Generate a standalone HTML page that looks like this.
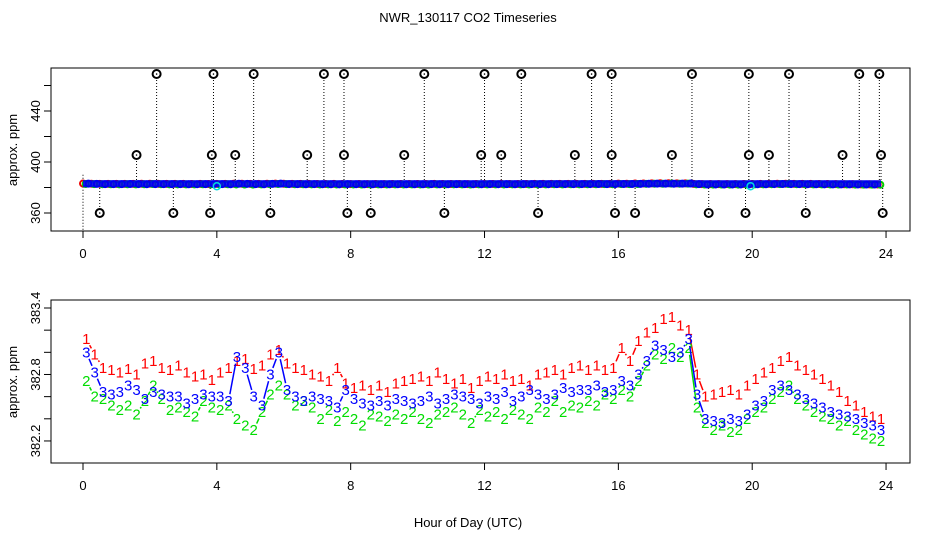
<!DOCTYPE html>
<html><head><meta charset="utf-8">
<style>
html,body{margin:0;padding:0;background:#fff;}
svg{display:block;font-family:"Liberation Sans",sans-serif;}
</style></head>
<body>
<svg id="chart" width="936" height="540" viewBox="0 0 936 540" xmlns="http://www.w3.org/2000/svg">
<rect width="936" height="540" fill="#fff"/>
<text x="468" y="22" font-size="13" text-anchor="middle">NWR_130117  CO2 Timeseries</text>
<text x="468" y="527" font-size="13" text-anchor="middle">Hour of Day (UTC)</text>
<text transform="translate(17,150) rotate(-90)" font-size="13" text-anchor="middle">approx. ppm</text>
<text transform="translate(17,382) rotate(-90)" font-size="13" text-anchor="middle">approx. ppm</text>
<g id="topPanel"></g>
<g id="botPanel"></g>
</svg>
<script>
const xTicks = [0,4,8,12,16,20,24];
const topYTicks = [360,400,440];
const topYMinor = [360,380,400,420,440,460];
const botYTicks = [382.2,382.4,382.6,382.8,383.0,383.2,383.4];
const botYLabels = [382.2,382.8,383.4];
const seriesRed = [383.12,382.98,382.86,382.84, 382.82,382.85,382.80,382.90, 382.92,382.86,382.84,382.88, 382.82,382.78,382.80,382.75,
 382.82,382.86,382.92,382.94, 382.85,382.88,382.98,383.02, 382.90,382.86,382.84,382.80, 382.78,382.74,382.86,382.72,
 382.68,382.70,382.66,382.70, 382.64,382.72,382.74,382.76, 382.78,382.74,382.82,382.76, 382.72,382.76,382.68,382.74,
 382.78,382.76,382.80,382.74, 382.76,382.70,382.80,382.82, 382.84,382.80,382.86,382.88, 382.84,382.88,382.84,382.86,
 383.04,382.92,383.10,383.18, 383.22,383.30,383.32,383.24, 383.20,382.80,382.60,382.62, 382.64,382.66,382.62,382.70,
 382.76,382.82,382.86,382.92, 382.96,382.88,382.84,382.80, 382.76,382.70,382.64,382.56, 382.52,382.46,382.42,382.40];
const seriesGreen = [382.74,382.60,382.58,382.52, 382.48,382.52,382.44,382.56, 382.70,382.58,382.48,382.50, 382.46,382.42,382.56,382.50,
 382.48,382.52,382.40,382.34, 382.30,382.46,382.62,382.70, 382.62,382.52,382.56,382.50, 382.40,382.48,382.38,382.46,
 382.40,382.34,382.44,382.42, 382.38,382.44,382.40,382.46, 382.40,382.36,382.44,382.46, 382.50,382.44,382.36,382.48,
 382.42,382.46,382.40,382.48, 382.44,382.40,382.50,382.46, 382.56,382.46,382.52,382.50, 382.56,382.52,382.62,382.58,
 382.66,382.60,382.74,382.88, 382.98,382.94,383.04,382.96, 383.04,382.50,382.36,382.30, 382.34,382.28,382.30,382.40,
 382.46,382.50,382.58,382.64, 382.70,382.58,382.52,382.46, 382.42,382.40,382.34,382.38, 382.30,382.26,382.22,382.20];
const seriesBlue = [383.00,382.82,382.64,382.62, 382.64,382.70,382.66,382.58, 382.64,382.62,382.60,382.60, 382.54,382.58,382.62,382.60,
 382.60,382.56,382.96,382.86, 382.60,382.52,382.80,383.00, 382.66,382.60,382.56,382.60, 382.58,382.56,382.50,382.66,
 382.58,382.54,382.52,382.56, 382.52,382.58,382.56,382.54, 382.56,382.60,382.54,382.58, 382.62,382.60,382.58,382.54,
 382.60,382.58,382.64,382.56, 382.60,382.66,382.62,382.58, 382.62,382.68,382.64,382.66, 382.66,382.70,382.64,382.66,
 382.74,382.70,382.80,382.92, 383.06,383.02,382.96,383.00, 383.12,382.62,382.40,382.38, 382.36,382.40,382.38,382.44,
 382.52,382.56,382.66,382.70, 382.66,382.62,382.58,382.54, 382.50,382.46,382.44,382.42, 382.40,382.36,382.34,382.30];
const outlierHours = [0.5,2.7,3.8,5.6,7.9,8.6,10.8,13.6,15.9,16.5,18.7,19.8,21.6,23.9,
 1.6,3.85,4.55,6.7,7.8,9.6,11.9,12.5,14.7,15.8,17.6,19.9,20.5,22.7,23.85,
 2.2,3.9,5.1,7.2,7.8,10.2,12.0,13.1,15.2,15.8,18.2,19.9,21.1,23.2,23.8];
const outlierValues = [360,360,360,360,360,360,360,360,360,360,360,360,360,360,
 405.5,405.5,405.5,405.5,405.5,405.5,405.5,405.5,405.5,405.5,405.5,405.5,405.5,405.5,405.5,
 469,469,469,469,469,469,469,469,469,469,469,469,469,469,469];
const cyanHours = [4.0,19.95];
const cyanValues = [381,381];

const NS="http://www.w3.org/2000/svg";
function mk(tag, attrs, parent, txt){const e=document.createElementNS(NS,tag);for(const k in attrs)e.setAttribute(k,attrs[k]);if(txt!==undefined)e.textContent=txt;parent.appendChild(e);return e;}
const xPx = h => 83 + h*33.46;
const yTop = v => 213 - (v-360)*1.275;
const yBot = v => 308 + (383.4-v)*110.8;
const hourOf = i => 0.1 + i*0.25;

function axes(g, y0, y1, yTicksAll, yLabs, yf, labFmt){
  const box=mk('rect',{x:51,y:y0,width:859,height:y1-y0,fill:'none',stroke:'#000','stroke-width':1},g);
  
  
  const xa=mk('g',{},g);
  
  
  mk('line',{x1:xPx(0),x2:xPx(24),y1:y1,y2:y1,stroke:'#000'},xa);
  xTicks.forEach(t=>{
    mk('line',{x1:xPx(t),x2:xPx(t),y1:y1,y2:y1+7,stroke:'#000'},xa);
    const l=mk('text',{x:xPx(t),y:y1+27,'font-size':13,'text-anchor':'middle'},xa,String(t));
    
    
  });
  const ya=mk('g',{},g);
  
  
  yTicksAll.forEach(t=>mk('line',{x1:44,x2:51,y1:yf(t),y2:yf(t),stroke:'#000'},ya));
  yLabs.forEach(t=>{
    const l=mk('text',{transform:`translate(40,${yf(t)}) rotate(-90)`,'font-size':13,'text-anchor':'middle'},ya,labFmt(t));
    
    
  });
}
const topG=document.getElementById('topPanel'), botG=document.getElementById('botPanel');
axes(topG,68,231,topYMinor,topYTicks,yTop,t=>String(t));
axes(botG,300,463,botYTicks,botYLabels,yBot,t=>t.toFixed(1));

outlierHours.forEach((h,i)=>{
  const x=xPx(h), y=yTop(outlierValues[i]);
  mk('line',{x1:x,x2:x,y1:y,y2:yTop(383),stroke:'#000','stroke-dasharray':'1,2'},topG);
});
mk('line',{x1:xPx(0),x2:xPx(0),y1:yTop(390),y2:231,stroke:'#000','stroke-dasharray':'1,2'},topG);
const base=mk('g',{},topG);


[[seriesRed,'#e00',0],[seriesGreen,'#0c0',0.08],[seriesBlue,'#00e',0.16]].forEach(([arr,c,off])=>{
  arr.forEach((v,i)=>{
    const h=hourOf(i)+off-0.1; if(h>23.9) return;
    mk('circle',{cx:xPx(h),cy:yTop(v),r:3,fill:'none',stroke:c,'stroke-width':2},base);
  });
});
mk('rect',{x:xPx(0),y:yTop(383)-3.5,width:xPx(23.85)-xPx(0),height:7,fill:'#00e',opacity:0.85},base);
cyanHours.forEach((h,i)=>mk('circle',{cx:xPx(h),cy:yTop(cyanValues[i]),r:3.5,fill:'none',stroke:'#0dd','stroke-width':1.5},topG));
outlierHours.forEach((h,i)=>{
  const c=mk('circle',{cx:xPx(h),cy:yTop(outlierValues[i]),r:4,fill:'#fff',stroke:'#000','stroke-width':2},topG);
  
  
  mk('circle',{cx:xPx(h),cy:yTop(outlierValues[i]),r:0.8,fill:'#000'},topG);
});

function series(arr,color,label,name){
  const g=mk('g',{},botG);
  
  
  for(let i=0;i<arr.length-1;i++){
    const x1=xPx(hourOf(i)),y1=yBot(arr[i]),x2=xPx(hourOf(i+1)),y2=yBot(arr[i+1]);
    const dx=x2-x1,dy=y2-y1,d=Math.hypot(dx,dy),gap=7;
    if(d>2*gap) mk('line',{x1:x1+dx/d*gap,y1:y1+dy/d*gap,x2:x2-dx/d*gap,y2:y2-dy/d*gap,stroke:color,'stroke-width':1.5},g);
  }
  arr.forEach((v,i)=>{
    const t=mk('text',{x:xPx(hourOf(i)),y:yBot(v)+5,'font-size':15,'text-anchor':'middle',fill:color},g,label);
    
    
  });
}
series(seriesRed,'#f00','1','series-1');
series(seriesGreen,'#0d0','2','series-2');
series(seriesBlue,'#00f','3','series-3');
</script>
</body></html>
